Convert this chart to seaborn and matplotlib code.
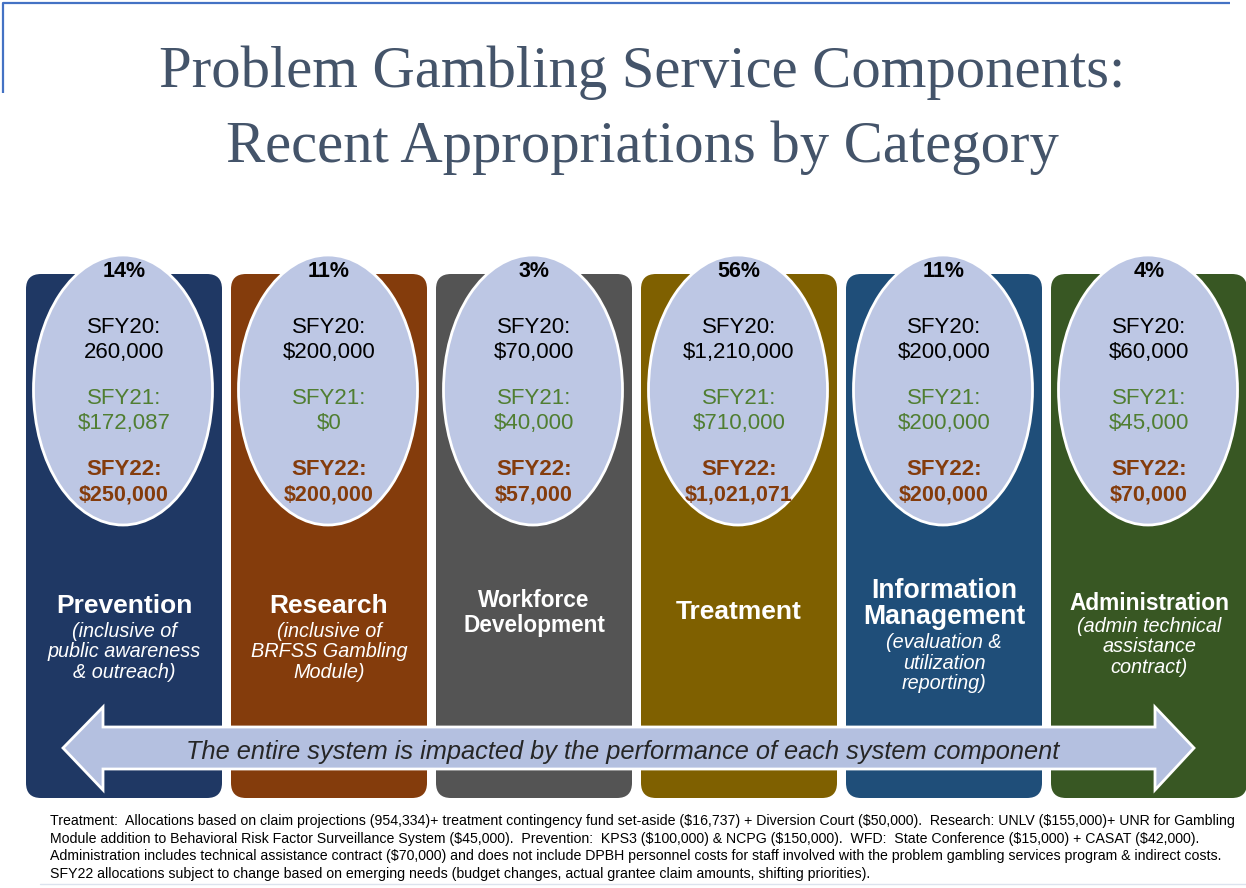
import matplotlib
matplotlib.use("Agg")
import matplotlib.pyplot as plt
import seaborn as sns
from matplotlib.patches import FancyBboxPatch, Ellipse, Polygon

# =========================
# 数据
# =========================
categories = ["Prevention", "Research", "Workforce\nDevelopment", "Treatment",
              "Information\nManagement", "Administration"]
subtitles = ["(inclusive of\npublic awareness\n& outreach)",
             "(inclusive of\nBRFSS Gambling\nModule)",
             "",
             "",
             "(evaluation &\nutilization\nreporting)",
             "(admin technical\nassistance\ncontract)"]
pct_labels = ["14%", "11%", "3%", "56%", "11%", "4%"]
sfy20 = ["260,000", "$200,000", "$70,000", "$1,210,000", "$200,000", "$60,000"]
sfy21 = ["$172,087", "$0", "$40,000", "$710,000", "$200,000", "$45,000"]
sfy22 = ["$250,000", "$200,000", "$57,000", "$1,021,071", "$200,000", "$70,000"]

title_lines = ["Problem Gambling Service Components:",
               "Recent Appropriations by Category"]
arrow_text = "The entire system is impacted by the performance of each system component"
footnote = [
    "Treatment:  Allocations based on claim projections (954,334)+ treatment contingency fund set-aside ($16,737) + Diversion Court ($50,000).  Research: UNLV ($155,000)+ UNR for Gambling",
    "Module addition to Behavioral Risk Factor Surveillance System ($45,000).  Prevention:  KPS3 ($100,000) & NCPG ($150,000).  WFD:  State Conference ($15,000) + CASAT ($42,000).",
    "Administration includes technical assistance contract ($70,000) and does not include DPBH personnel costs for staff involved with the problem gambling services program & indirect costs.",
    "SFY22 allocations subject to change based on emerging needs (budget changes, actual grantee claim amounts, shifting priorities).",
]

# =========================
# 样式 / 布局
# =========================
col_colors = ["#1F3864", "#843C0C", "#545454", "#7F6000", "#1F4E79", "#385723"]
name_sizes = [19, 19, 16.3, 19, 19.2, 16.4]
name_y = [606, 606, 600, 612, 591, 603]
sub_gap = [25, 25, 0, 0, 26, 23]
COL_X0, COL_W, PITCH = 26, 196, 205
COL_TOP, COL_BOT = 274, 798

sns.set_theme(style="white")
plt.rcParams["font.family"] = ["Liberation Sans", "DejaVu Sans"]

fig = plt.figure(figsize=(12.46, 8.88), dpi=100)
ax = fig.add_axes([0, 0, 1, 1])
ax.set_xlim(0, 1246)
ax.set_ylim(888, 0)
ax.axis("off")

# 左上角蓝线
ax.plot([3, 3, 1230], [93, 3, 3], color="#4472C4", lw=1.6, solid_capstyle="butt")

# 标题
for y, line in zip([87, 162], title_lines):
    ax.text(642, y, line, ha="center", va="baseline", fontsize=42.2,
            family="Liberation Serif", color="#44546A")

# 各列
for i, cat in enumerate(categories):
    x0 = COL_X0 + i * PITCH
    cx = x0 + COL_W / 2
    ax.add_patch(FancyBboxPatch((x0 + 15, COL_TOP + 15), COL_W - 30, COL_BOT - COL_TOP - 30,
                                boxstyle="round,pad=15", fc=col_colors[i], ec="none"))
    ax.add_patch(Ellipse((cx - 1, 390), 179, 270, fc="#BDC7E4", ec="white", lw=2))

    ax.text(cx, 271, pct_labels[i], ha="center", va="center", fontsize=15.5, weight="bold", color="black")
    ax.text(cx, 327, "SFY20:", ha="center", va="center", fontsize=16, color="black")
    ax.text(cx, 352, sfy20[i], ha="center", va="center", fontsize=16, color="black")
    ax.text(cx, 398, "SFY21:", ha="center", va="center", fontsize=16, color="#507E32")
    ax.text(cx, 423, sfy21[i], ha="center", va="center", fontsize=16, color="#507E32")
    ax.text(cx, 469, "SFY22:", ha="center", va="center", fontsize=16, weight="bold", color="#843C0C")
    ax.text(cx, 495, sfy22[i], ha="center", va="center", fontsize=15.5, weight="bold", color="#843C0C")

    y = name_y[i]
    lines = cat.split("\n")
    for k, line in enumerate(lines):
        ax.text(cx, y, line, ha="center", va="center", fontsize=name_sizes[i],
                weight="bold", color="white")
        if k < len(lines) - 1:
            y += 25.5
    y += sub_gap[i]
    if subtitles[i]:
        for line in subtitles[i].split("\n"):
            ax.text(cx, y, line, ha="center", va="center", fontsize=14.3,
                    style="italic", color="white")
            y += 20.7

# 双向箭头
arrow = [(63, 748), (103, 707), (103, 727), (1155, 727), (1155, 707), (1194, 748),
         (1155, 790), (1155, 769), (103, 769), (103, 790)]
ax.add_patch(Polygon(arrow, closed=True, fc="#B4C0E0", ec="white", lw=2, joinstyle="miter"))
ax.text(623, 752, arrow_text, ha="center", va="center", fontsize=18.3,
        style="italic", color="#262626")

# 脚注
for j, line in enumerate(footnote):
    ax.text(50, 821 + j * 17.6, line, ha="left", va="center", fontsize=10.15, color="black")
ax.plot([40, 1246], [884, 884], color="#DCE3EE", lw=1)

fig.savefig("out.png", dpi=100)
